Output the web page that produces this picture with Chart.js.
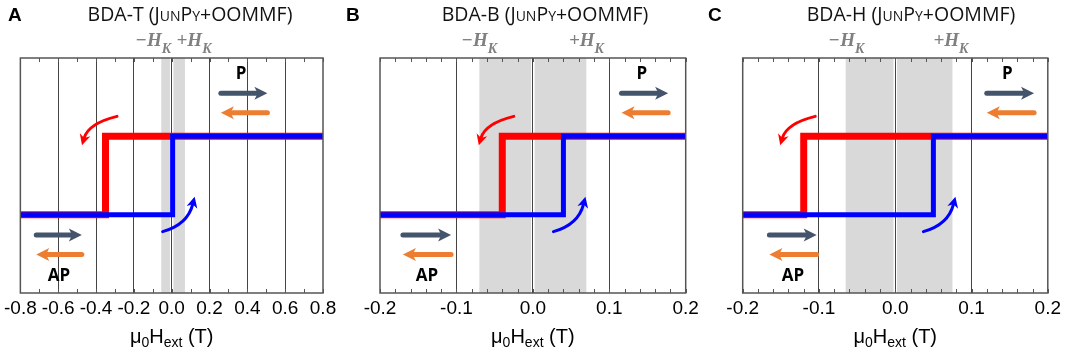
<!DOCTYPE html>
<html lang="en">
<head>
<meta charset="UTF-8">
<title>BDA switching loops (JunPy+OOMMF)</title>
<script src="https://cdn.jsdelivr.net/npm/chart.js"></script>
<style>
  body { margin: 0; background: #fff; width: 1065px; height: 349px; position: relative; overflow: hidden; font-family: "Open Sans", sans-serif; }
  canvas { position: absolute; top: 0; }
  .title { position: absolute; top: 0; font-size: 19.5px; line-height: 28px; color: #111; transform: translateX(-50%); white-space: nowrap; }
  .sc { font-variant: small-caps; }
  .letter { position: absolute; top: 1px; font: bold 19px "Liberation Sans", Arial, sans-serif; line-height: 28px; }
  .xlabel { position: absolute; top: 322px; transform: translateX(-50%); font: 20px "Liberation Sans", Arial, sans-serif; white-space: nowrap; line-height: 28px; }
  .xlabel sub { font-size: 14px; vertical-align: -4px; line-height: 0; }
</style>
</head>
<body>
<script>
  // panel data
  const panelLetters = ['A', 'B', 'C'];
  const panelTitles = ['BDA-T', 'BDA-B', 'BDA-H'];
  const xMins = [-0.8, -0.2, -0.2];
  const xMaxs = [0.8, 0.2, 0.2];
  const majorSteps = [0.2, 0.1, 0.1];
  const minorSteps = [0.1, 0.02, 0.02];
  const redSwitch = [-0.35, -0.04, -0.12];   // P -> AP on the down sweep
  const blueSwitch = [0.005, 0.04, 0.05];    // AP -> P on the up sweep
  const apLevel = 0, pLevel = 1;
  const hkBand = [[-0.055, 0.07], [-0.07, 0.07], [-0.065, 0.075]];
  const hkLabelX = [[-0.097, 0.118], [-0.07, 0.07], [-0.064, 0.073]];
  const pArrowX = [[0.26, 0.506], [0.116, 0.177], [0.12, 0.182]];
  const apArrowX = [[-0.716, -0.475], [-0.170, -0.107], [-0.165, -0.103]];

  // layout of the three panels (pixels)
  const frames = [
    { left: 0, width: 350, padL: 18, padR: 27, titleX: 190, letterX: 8 },
    { left: 350, width: 360, padL: 30, padR: 24.3, titleX: 545, letterX: 346 },
    { left: 710, width: 355, padL: 32.7, padR: 16.3, titleX: 911, letterX: 708 }
  ];
  const rowP = { label: 1.8, dark: 1.55, orange: 1.3 };
  const rowAP = { dark: -0.26, orange: -0.51, label: -0.79 };

  const DARK = '#44546a', ORANGE = '#ed7d31';

  function straightArrow(ctx, xFrom, xTo, y, color) {
    const dir = Math.sign(xTo - xFrom), hl = 13, hw = 6.5;
    ctx.strokeStyle = color; ctx.lineWidth = 5; ctx.lineCap = 'round';
    ctx.beginPath(); ctx.moveTo(xFrom, y); ctx.lineTo(xTo - dir * hl * 0.8, y); ctx.stroke();
    ctx.fillStyle = color;
    ctx.beginPath();
    ctx.moveTo(xTo, y);
    ctx.lineTo(xTo - dir * hl, y - hw);
    ctx.lineTo(xTo - dir * hl * 0.75, y);
    ctx.lineTo(xTo - dir * hl, y + hw);
    ctx.closePath(); ctx.fill();
  }

  function curvedArrow(ctx, sx, sy, cx, cy, ex, ey, color) {
    const ang = Math.atan2(ey - cy, ex - cx), hl = 11, hw = 5.5;
    ctx.strokeStyle = color; ctx.lineWidth = 3; ctx.lineCap = 'round';
    ctx.beginPath();
    ctx.moveTo(sx, sy);
    ctx.quadraticCurveTo(cx, cy, ex - Math.cos(ang) * hl * 0.7, ey - Math.sin(ang) * hl * 0.7);
    ctx.stroke();
    ctx.fillStyle = color;
    ctx.beginPath();
    ctx.moveTo(ex, ey);
    ctx.lineTo(ex - hl * Math.cos(ang) + hw * Math.sin(ang), ey - hl * Math.sin(ang) - hw * Math.cos(ang));
    ctx.lineTo(ex - hl * Math.cos(ang) * 0.7, ey - hl * Math.sin(ang) * 0.7);
    ctx.lineTo(ex - hl * Math.cos(ang) - hw * Math.sin(ang), ey - hl * Math.sin(ang) + hw * Math.cos(ang));
    ctx.closePath(); ctx.fill();
  }

  function hkLabel(ctx, cx, baseY, sign) {
    const big = 'bold italic 19px "Liberation Serif", serif';
    const small = 'bold italic 14px "Liberation Serif", serif';
    ctx.font = big; const w1 = ctx.measureText(sign + 'H').width;
    ctx.font = small; const w2 = ctx.measureText('K').width;
    const x0 = cx - (w1 + w2) / 2;
    ctx.fillStyle = '#808080'; ctx.textAlign = 'left'; ctx.textBaseline = 'alphabetic';
    ctx.font = big; ctx.fillText(sign + 'H', x0, baseY);
    ctx.font = small; ctx.fillText('K', x0 + w1, baseY + 7);
  }

  function decor(i) {
    return {
      id: 'decor',
      beforeDraw(chart) {
        const { ctx, chartArea: a, scales: { x } } = chart;
        const x0 = x.getPixelForValue(hkBand[i][0]), x1 = x.getPixelForValue(hkBand[i][1]);
        ctx.save();
        ctx.fillStyle = '#d9d9d9';
        ctx.fillRect(x0, a.top, x1 - x0, a.bottom - a.top);
        const z = x.getPixelForValue(0);
        ctx.fillStyle = '#fff';
        ctx.fillRect(z - 1.75, a.top, 3.5, a.bottom - a.top);
        ctx.restore();
      },
      afterDatasetsDraw(chart) {
        const { ctx, chartArea: a, scales: { x, y } } = chart;
        ctx.save();
        // frame
        ctx.strokeStyle = '#555'; ctx.lineWidth = 1.5;
        ctx.strokeRect(a.left, a.top, a.right - a.left, a.bottom - a.top);
        // inward minor ticks, top and bottom
        ctx.lineWidth = 1;
        ctx.beginPath();
        for (let k = 0; ; k++) {
          const v = xMins[i] + k * minorSteps[i];
          if (v > xMaxs[i] + 1e-9) break;
          const px = Math.round(x.getPixelForValue(v)) + 0.5;
          ctx.moveTo(px, a.bottom); ctx.lineTo(px, a.bottom - 4);
          ctx.moveTo(px, a.top); ctx.lineTo(px, a.top + 4);
        }
        ctx.stroke();

        // switching arrows
        const rs = x.getPixelForValue(redSwitch[i]), pY = y.getPixelForValue(pLevel);
        curvedArrow(ctx, rs + 11.5, pY - 20, rs - 17, pY - 13, rs - 23.5, pY + 9, '#ff0000');
        const bs = x.getPixelForValue(blueSwitch[i]), aY = y.getPixelForValue(apLevel);
        curvedArrow(ctx, bs - 10, aY + 17, bs + 15, aY + 10, bs + 22, aY - 18, '#0000ff');

        // P / AP magnetisation arrows
        const p0 = x.getPixelForValue(pArrowX[i][0]), p1 = x.getPixelForValue(pArrowX[i][1]);
        straightArrow(ctx, p0, p1, y.getPixelForValue(rowP.dark), DARK);
        straightArrow(ctx, p1, p0, y.getPixelForValue(rowP.orange), ORANGE);
        const q0 = x.getPixelForValue(apArrowX[i][0]), q1 = x.getPixelForValue(apArrowX[i][1]);
        straightArrow(ctx, q0, q1, y.getPixelForValue(rowAP.dark), DARK);
        straightArrow(ctx, q1, q0, y.getPixelForValue(rowAP.orange), ORANGE);

        ctx.fillStyle = '#000';
        ctx.font = 'bold 17px "Open Sans", sans-serif';
        ctx.textAlign = 'center'; ctx.textBaseline = 'middle';
        ctx.fillText('P', (p0 + p1) / 2 - 3, y.getPixelForValue(rowP.label));
        ctx.fillText('AP', (q0 + q1) / 2, y.getPixelForValue(rowAP.label));

        // anisotropy field labels
        hkLabel(ctx, x.getPixelForValue(hkLabelX[i][0]), a.top - 12, '\u2212');
        hkLabel(ctx, x.getPixelForValue(hkLabelX[i][1]), a.top - 12, '+');
        ctx.restore();
      }
    };
  }

  function makePanel(i) {
    const f = frames[i];
    const canvas = document.createElement('canvas');
    canvas.width = f.width; canvas.height = 349;
    canvas.style.left = f.left + 'px';
    document.body.appendChild(canvas);

    const letter = document.createElement('div');
    letter.className = 'letter';
    letter.style.left = f.letterX + 'px';
    letter.textContent = panelLetters[i];
    document.body.appendChild(letter);

    const title = document.createElement('div');
    title.className = 'title';
    title.style.left = f.titleX + 'px';
    title.innerHTML = panelTitles[i] + ' (J<span class="sc">un</span>P<span class="sc">y</span>+OOMMF)';
    document.body.appendChild(title);

    const down = [
      { x: xMaxs[i], y: pLevel }, { x: redSwitch[i], y: pLevel },
      { x: redSwitch[i], y: apLevel }, { x: xMins[i], y: apLevel }
    ];
    const up = [
      { x: xMins[i], y: apLevel }, { x: blueSwitch[i], y: apLevel },
      { x: blueSwitch[i], y: pLevel }, { x: xMaxs[i], y: pLevel }
    ];

    const chart = new Chart(canvas.getContext('2d'), {
      type: 'scatter',
      data: {
        datasets: [
          { label: 'up sweep', data: up, showLine: true, borderColor: '#0000ff', borderWidth: 5, pointRadius: 0, borderJoinStyle: 'miter' },
          { label: 'down sweep', data: down, showLine: true, borderColor: '#ff0000', borderWidth: 7, pointRadius: 0, borderJoinStyle: 'miter' }
        ]
      },
      options: {
        responsive: false,
        animation: false,
        layout: { padding: { top: 58, left: f.padL, right: f.padR, bottom: 0 } },
        plugins: { legend: { display: false }, tooltip: { enabled: false } },
        scales: {
          x: {
            type: 'linear', min: xMins[i], max: xMaxs[i],
            afterFit: s => { s.height = 56; },
            ticks: {
              stepSize: majorSteps[i], autoSkip: false, maxRotation: 0, padding: 4, color: '#000',
              font: { family: '"Liberation Sans", Arial, sans-serif', size: 19 },
              callback: v => (Math.abs(v) < 1e-9 ? 0 : v).toFixed(1)
            },
            grid: {
              drawTicks: false, lineWidth: 1,
              color: c => (c.tick && c.tick.value > xMins[i] + 1e-9 && c.tick.value < xMaxs[i] - 1e-9) ? '#444' : 'transparent'
            },
            border: { display: false }
          },
          y: { min: -1, max: 2, display: false }
        }
      },
      plugins: [decor(i)]
    });

    const a = chart.chartArea;
    const xl = document.createElement('div');
    xl.className = 'xlabel';
    xl.style.left = (f.left + (a.left + a.right) / 2) + 'px';
    xl.innerHTML = '\u03bc<sub>0</sub>H<sub>ext</sub> (T)';
    document.body.appendChild(xl);
  }

  [0, 1, 2].forEach(makePanel);
</script>
</body>
</html>
